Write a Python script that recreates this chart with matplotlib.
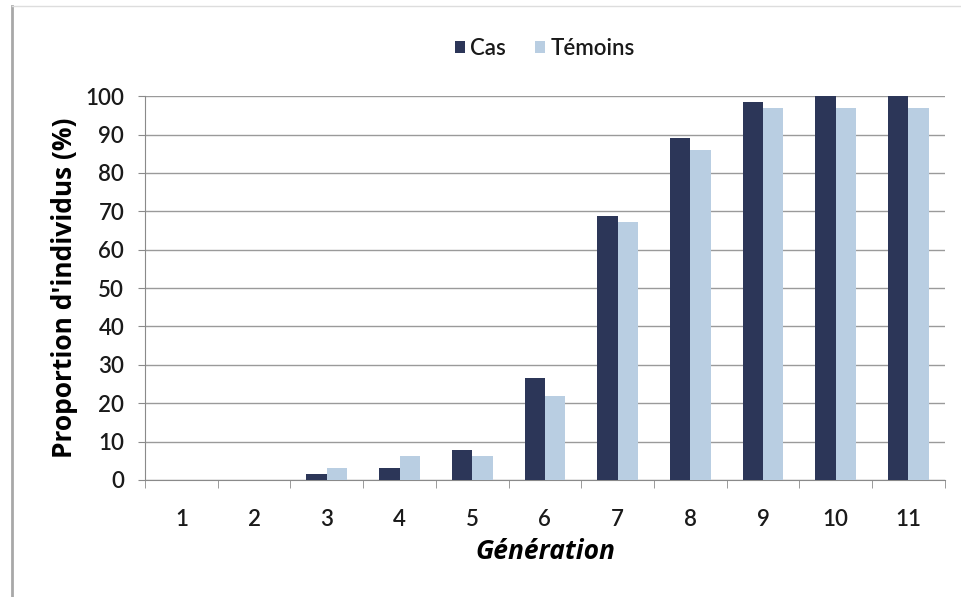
import numpy as np
import matplotlib.pyplot as plt
from matplotlib.lines import Line2D

plt.rcParams['font.family'] = ['Lato', 'DejaVu Sans']

# data
generations = ["1", "2", "3", "4", "5", "6", "7", "8", "9", "10", "11"]
cas = [0, 0, 1.6, 3.1, 7.8, 26.6, 68.8, 89.1, 98.4, 100, 100]
temoins = [0, 0, 3.1, 6.2, 6.2, 21.9, 67.2, 85.9, 96.9, 96.9, 96.9]

dark = "#2c3658"
light = "#b9cee2"

fig = plt.figure(figsize=(9.61, 5.97), dpi=100)
ax = fig.add_axes([0.151, 0.196, 0.832, 0.643])

x = np.arange(len(generations))
w = 0.28
ax.bar(x - w / 2, cas, w, color=dark, label="Cas", zorder=3)
ax.bar(x + w / 2, temoins, w, color=light, label="Témoins", zorder=3)

ax.set_xlim(-0.5, len(generations) - 0.5)
ax.set_ylim(0, 100)
ax.set_yticks(range(0, 101, 10))
ax.yaxis.grid(True, color="#9a9a9a", linewidth=1.0, zorder=0)
ax.set_xticks(x)
ax.set_xticklabels(generations)
ax.set_xticks(np.arange(-0.5, len(generations), 1), minor=True)
ax.tick_params(axis="x", which="major", length=0, labelsize=16, pad=21)
ax.tick_params(axis="x", which="minor", length=6, color="#8a8a8a")
ax.tick_params(axis="y", length=5, color="#8a8a8a", labelsize=16, pad=10)
for lab in ax.get_xticklabels() + ax.get_yticklabels():
    lab.set_fontweight("semibold")
    lab.set_color("#1a1a1a")

for s in ["top", "right"]:
    ax.spines[s].set_visible(False)
for s in ["left", "bottom"]:
    ax.spines[s].set_color("#8a8a8a")

ax.set_ylabel("Proportion d'individus (%)", fontsize=19, fontweight="bold",
              family=["Open Sans", "DejaVu Sans"], labelpad=5)
ax.set_xlabel("Génération", fontsize=19, fontweight="bold", style="italic",
              family=["Open Sans", "DejaVu Sans"], labelpad=6)

leg = ax.legend(loc="lower center", bbox_to_anchor=(0.5, 1.045), ncol=2, frameon=False,
                fontsize=16, handlelength=0.45, handleheight=0.45, handletextpad=0.25,
                columnspacing=1.3)
for t in leg.get_texts():
    t.set_fontweight("semibold")
    t.set_color("#1a1a1a")

# outer chart frame (only left and top edges visible in the scan)
fig.add_artist(Line2D([0.013, 0.013], [0.0, 0.99], transform=fig.transFigure,
                      color="#a8a8a8", linewidth=2))
fig.add_artist(Line2D([0.013, 1.0], [0.99, 0.99], transform=fig.transFigure,
                      color="#dddddd", linewidth=1))

fig.savefig("out.png", dpi=100)
